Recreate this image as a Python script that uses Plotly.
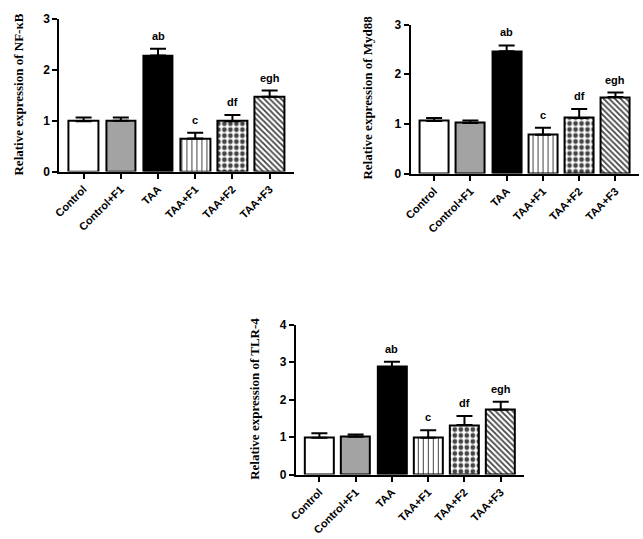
import plotly.graph_objects as go

categories = ["Control", "Control+F1", "TAA", "TAA+F1", "TAA+F2", "TAA+F3"]

nfkb_mean = [0.99, 1.00, 2.28, 0.65, 0.99, 1.47]
nfkb_err = [0.07, 0.06, 0.13, 0.11, 0.12, 0.12]
nfkb_labels = ["", "", "ab", "c", "df", "egh"]

myd88_mean = [1.06, 1.02, 2.46, 0.78, 1.12, 1.54]
myd88_err = [0.06, 0.05, 0.12, 0.14, 0.18, 0.09]
myd88_labels = ["", "", "ab", "c", "df", "egh"]

tlr4_mean = [0.98, 1.01, 2.87, 0.98, 1.32, 1.73]
tlr4_err = [0.12, 0.06, 0.14, 0.20, 0.24, 0.21]
tlr4_labels = ["", "", "ab", "c", "df", "egh"]

W, H = 643, 539

fills = ["white", "#a3a3a3", "black", "white", "white", "white"]
shapes = ["", "", "", "|", ".", "\\"]
sizes = [6, 6, 6, 5, 6, 4]
solid = [0.3, 0.3, 0.3, 0.2, 0.5, 0.45]

panels = [
    dict(mean=nfkb_mean, err=nfkb_err, labels=nfkb_labels, ymax=3,
         title="Relative expression of NF-κB",
         xpx=(53, 290), ypx=(169, 12), tx=12, ty=90),
    dict(mean=myd88_mean, err=myd88_err, labels=myd88_labels, ymax=3,
         title="Relative expression of Myd88",
         xpx=(408, 639), ypx=(171, 18), tx=365, ty=93),
    dict(mean=tlr4_mean, err=tlr4_err, labels=tlr4_labels, ymax=4,
         title="Relative expression of TLR-4",
         xpx=(292, 523), ypx=(480, 326), tx=250, ty=402),
]

fig = go.Figure()
annotations = []
xs = list(range(len(categories)))
for k, p in enumerate(panels):
    sfx = "" if k == 0 else str(k + 1)
    fig.add_trace(go.Bar(
        x=xs, y=p["mean"], width=0.8,
        xaxis="x" + sfx, yaxis="y" + sfx,
        marker=dict(color=fills, line=dict(color="black", width=2),
                    pattern=dict(shape=shapes, fgcolor="black", fgopacity=1,
                                 size=sizes, solidity=solid, fillmode="overlay")),
        error_y=dict(type="data", symmetric=False, array=p["err"],
                     arrayminus=[0] * len(xs), color="black", thickness=2, width=8),
        showlegend=False,
    ))
    for i, lab in enumerate(p["labels"]):
        if lab:
            annotations.append(dict(
                x=i, y=p["mean"][i] + p["err"][i], xref="x" + sfx, yref="y" + sfx,
                text="<b>" + lab + "</b>", showarrow=False, yanchor="bottom", yshift=5,
                font=dict(family="Liberation Sans", size=11, color="black")))
    annotations.append(dict(
        x=p["tx"] / W, y=1 - p["ty"] / H, xref="paper", yref="paper",
        xanchor="center", yanchor="middle",
        text="<b>" + p["title"] + "</b>", textangle=-90, showarrow=False,
        font=dict(family="Liberation Serif", size=13, color="black")))
    xdom = [p["xpx"][0] / W, p["xpx"][1] / W]
    ydom = [1 - p["ypx"][0] / H, 1 - p["ypx"][1] / H]
    fig.update_layout(**{
        "xaxis" + sfx: dict(domain=xdom, anchor="y" + sfx, range=[-0.65, 5.65],
                            tickvals=xs, ticktext=categories, tickangle=-45,
                            showline=True, linecolor="black", linewidth=2,
                            ticks="outside", ticklen=5, tickwidth=2, tickcolor="black",
                            showgrid=False, zeroline=False,
                            tickfont=dict(family="Liberation Sans", size=11,
                                          color="black", weight="bold")),
        "yaxis" + sfx: dict(domain=ydom, anchor="x" + sfx, range=[0, p["ymax"]],
                            dtick=1, tick0=0,
                            showline=True, linecolor="black", linewidth=2,
                            ticks="outside", ticklen=5, tickwidth=2, tickcolor="black",
                            showgrid=False, zeroline=False,
                            tickfont=dict(family="Liberation Sans", size=12,
                                          color="black", weight="bold")),
    })

fig.update_layout(width=W, height=H, margin=dict(l=0, r=0, t=0, b=0),
                  paper_bgcolor="white", plot_bgcolor="white",
                  annotations=annotations, bargap=0)
fig.write_html("out.html")
